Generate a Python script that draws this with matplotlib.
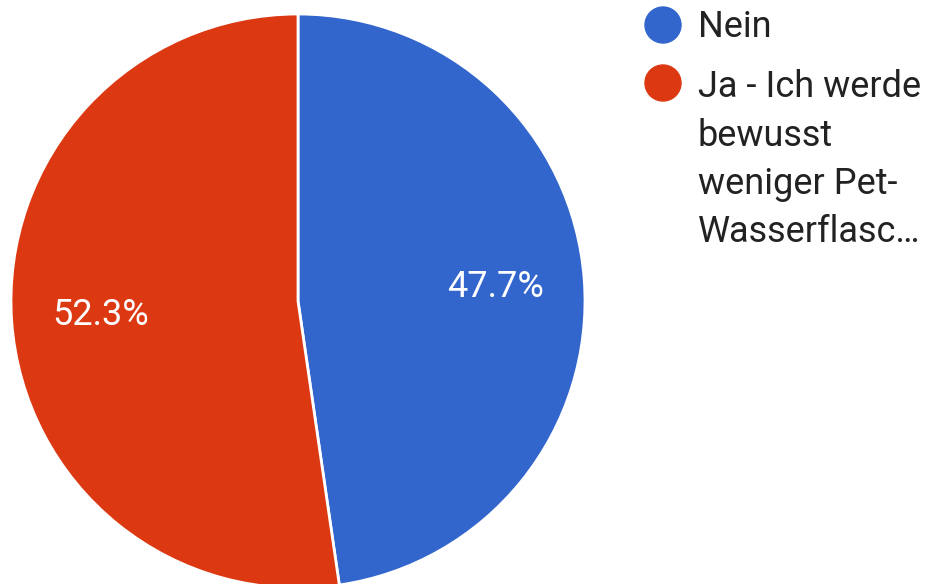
import matplotlib
matplotlib.use("Agg")
import matplotlib.pyplot as plt
from matplotlib.patches import Circle

labels = ["Nein", "Ja - Ich werde bewusst weniger Pet-Wasserflasc…"]
values = [47.7, 52.3]
colors = ["#3366CC", "#DC3912"]
legend_lines = [["Nein"], ["Ja - Ich werde", "bewusst", "weniger Pet-", "Wasserflasc…"]]

W, H = 927, 584
fig = plt.figure(figsize=(W / 100, H / 100), dpi=100)
ax = fig.add_axes([0, 0, 1, 1])
ax.set_xlim(0, W)
ax.set_ylim(0, H)
ax.set_aspect("equal")
ax.axis("off")

cx, cy_img, r = 298, 301, 287
wedges, texts, autotexts = ax.pie(
    values, colors=colors, startangle=90, counterclock=False,
    center=(cx, H - cy_img), radius=r, autopct="%1.1f%%", pctdistance=0.69,
    wedgeprops=dict(edgecolor="white", linewidth=2),
    textprops=dict(color="white", fontsize=26, family="Roboto"),
)
for t in autotexts:
    t.set_va("center")
    t.set_ha("center")
ax.set_xlim(0, W)
ax.set_ylim(0, H)

# legend
marker_x = 663
marker_y = [25, 83]
first_baseline = [37, 97]
step = 48.5
for i, lines in enumerate(legend_lines):
    ax.add_patch(Circle((marker_x, H - marker_y[i]), 18, color=colors[i], zorder=5))
    for j, line in enumerate(lines):
        ax.text(698, H - (first_baseline[i] + j * step), line, fontsize=26,
                family="Roboto", color="#222222", ha="left", va="baseline")

fig.savefig("out.png", dpi=100)
